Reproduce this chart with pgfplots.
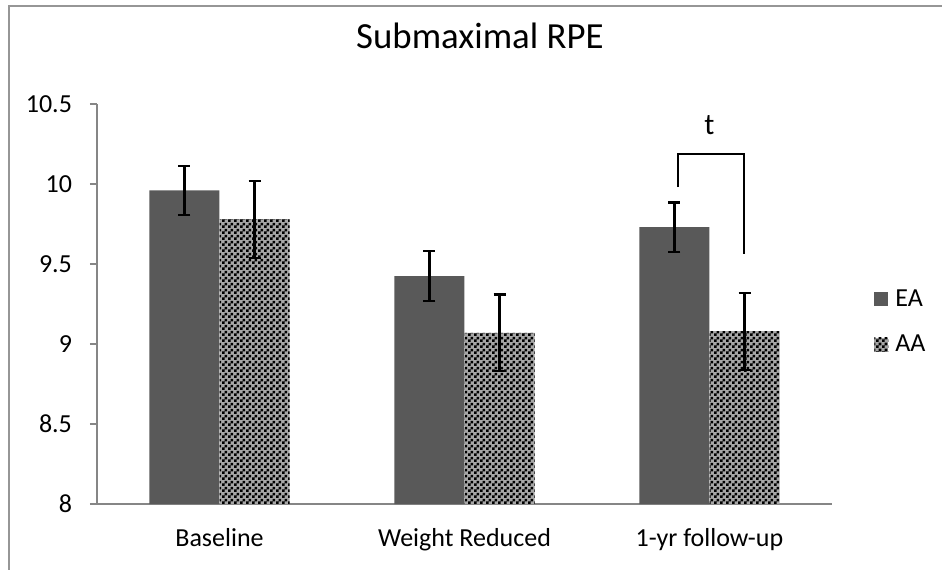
\documentclass[border=0pt]{standalone}
\usepackage{pgfplots}
\pgfplotsset{compat=1.18}
\usepackage{fontspec}
\setmainfont{Carlito}
\usetikzlibrary{patterns}
\pgfdeclarepatternformonly{finecheck}{\pgfpointorigin}{\pgfpoint{3pt}{3pt}}{\pgfpoint{3pt}{3pt}}{%
  \pgfpathrectangle{\pgfpointorigin}{\pgfpoint{1.5pt}{1.5pt}}%
  \pgfpathrectangle{\pgfpoint{1.5pt}{1.5pt}}{\pgfpoint{1.5pt}{1.5pt}}%
  \pgfusepath{fill}}
\definecolor{eagray}{RGB}{89,89,89}
\definecolor{axgray}{RGB}{134,134,134}
\definecolor{framegray}{RGB}{150,150,150}
\begin{document}
\begin{tikzpicture}
\useasboundingbox (0,0) rectangle (471pt,284.5pt);
\draw[framegray, line width=1pt] (4.5pt,-1pt) -- (4.5pt,281.5pt) -- (472pt,281.5pt);
\begin{axis}[
  at={(48.5pt,32.5pt)}, anchor=south west,
  scale only axis, width=367.5pt, height=200pt,
  xmin=-0.5, xmax=2.5, ymin=8, ymax=10.5,
  ybar, bar width=0.2857,
  legend image code/.code={\fill[#1] (0pt,-3.5pt) rectangle (7pt,3.5pt);},
  xtick={0,1,2},
  xticklabels={Baseline, Weight Reduced, 1-yr follow-up},
  ytick={8,8.5,9,9.5,10,10.5},
  axis lines*=left,
  axis line style={axgray, line width=0.75pt, -},
  major x tick style={draw=none},
  major y tick style={axgray, line width=0.75pt},
  tick align=outside, major tick length=3.5pt,
  /pgf/number format/assume math mode=true,
  ticklabel style={font=\fontsize{13}{15}\selectfont, text=black},
  xticklabel style={yshift=-5pt},
  yticklabel style={xshift=-5.5pt},
  title={Submaximal RPE},
  title style={at={(rel axis cs:0.521,1.14)}, anchor=center, font=\fontsize{18.4}{21}\selectfont},
  legend style={at={(rel axis cs:1.049,0.455)}, anchor=west, draw=none, fill=none,
    font=\fontsize{13}{15}\selectfont, row sep=9pt,
    /tikz/every odd column/.append style={column sep=1.5pt}},
  legend cell align=left,
]
\addplot[fill=eagray, draw=none, bar shift=-0.1429,
  error bars/.cd, y dir=both, y explicit,
  error bar style={line width=1.1pt, black},
  error mark options={rotate=90, mark size=3pt, line width=1.1pt, black}]
  coordinates {(0,9.96) +- (0,0.155) (1,9.425) +- (0,0.155) (2,9.73) +- (0,0.155)};
\addlegendentry{EA}
\addplot[fill=black!35, postaction={pattern=finecheck, pattern color=black}, draw=none, bar shift=0.1429,
  error bars/.cd, y dir=both, y explicit,
  error bar style={line width=1.1pt, black},
  error mark options={rotate=90, mark size=3pt, line width=1.1pt, black}]
  coordinates {(0,9.78) +- (0,0.24) (1,9.07) +- (0,0.24) (2,9.08) +- (0,0.24)};
\addlegendentry{AA}
\addplot[sharp plot, black, line width=1.1pt, no marks, forget plot]
  coordinates {(1.87,9.98) (1.87,10.19) (2.14,10.19) (2.14,9.56)};
\node[font=\fontsize{15}{17}\selectfont] at (axis cs:2,10.37) {t};
\end{axis}
\end{tikzpicture}
\end{document}
